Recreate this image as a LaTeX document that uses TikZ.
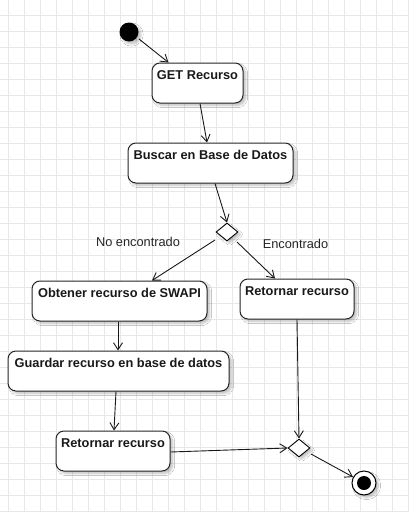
\documentclass[tikz,border=0pt]{standalone}
\usepackage{fontspec}
\setmainfont{Liberation Sans}
\usetikzlibrary{arrows.meta,shapes.geometric,shadows.blur,calc}
\tikzset{
  shade/.style={blur shadow={shadow xshift=2.5pt,shadow yshift=-2.5pt,shadow blur steps=6,shadow opacity=25}},
  actbox/.style={draw=black!85,line width=1pt,fill=white,rounded corners=8pt,minimum height=40pt,inner sep=0pt,shade,
    label={[anchor=base,yshift=-17.3pt,font=\fontsize{12.8}{15}\selectfont\bfseries,text=black!90]north:#1}},
  decision/.style={draw=black,line width=0.9pt,fill=white,diamond,minimum width=22pt,minimum height=18pt,inner sep=0pt,aspect=1.22,shade},
  lbl/.style={font=\fontsize{12.8}{15}\selectfont,text=black!85,inner sep=0pt},
  arr/.style={draw=black!90,line width=0.9pt,-{Straight Barb[length=7pt,width=9pt]}}
}
\begin{document}
\begin{tikzpicture}[x=1pt,y=-1pt]
\useasboundingbox (0,0) rectangle (408,512);
\fill[white] (0,0) rectangle (408,512);
% grid
\foreach \gx in {8,24,...,408} \draw[black!9,line width=0.8pt] (\gx,0) -- (\gx,512);
\foreach \gy in {15,31,...,511} \draw[black!9,line width=0.8pt] (0,\gy) -- (408,\gy);
% nodes
\node[circle,fill=black,minimum size=19pt,inner sep=0pt,shade] (init) at (129,32) {};
\node[actbox={GET Recurso},minimum width=91pt] (get) at (197.5,83) {};
\node[actbox={Buscar en Base de Datos},minimum width=165pt] (buscar) at (210.5,163) {};
\node[decision] (dec1) at (227,232) {};
\node[lbl] (lno) at (138,242) {No encontrado};
\node[lbl] (lsi) at (295.5,244) {Encontrado};
\node[actbox={Obtener recurso de SWAPI},minimum width=175pt] (obtener) at (119.5,301) {};
\node[actbox={Retornar recurso},minimum width=114pt] (retR) at (297,299) {};
\node[actbox={Guardar recurso en base de datos},minimum width=221pt] (guardar) at (118.5,371) {};
\node[actbox={Retornar recurso},minimum width=114pt] (retL) at (113,451) {};
\node[decision] (dec2) at (299,448) {};
\node[circle,draw=black,line width=1pt,fill=white,minimum size=24pt,inner sep=0pt,shade] (final) at (364,483) {};
\node[circle,fill=black,minimum size=14pt,inner sep=0pt] (finalin) at (final) {};
% connectors
\draw[arr] ([shift={(10,7)}]init.center) -- ([xshift=17pt]get.north west);
\draw[arr] ([xshift=2.5pt]get.south) -- ([xshift=-3.5pt]buscar.north);
\draw[arr] ([xshift=4.5pt]buscar.south) -- (dec1.north);
\draw[arr] ([shift={(-12,8)}]dec1.center) -- ([xshift=32.5pt]obtener.north);
\draw[arr] ([shift={(10,10)}]dec1.center) -- ([xshift=-22pt]retR.north);
\draw[arr] ([xshift=-1.5pt]obtener.south) -- ([xshift=-0.5pt]guardar.north);
\draw[arr] ([xshift=-2.5pt]guardar.south) -- ([xshift=1pt]retL.north);
\draw[arr] (retR.south) -- (dec2.north);
\draw[arr] ([yshift=-1pt]retL.east) -- (dec2.west);
\draw[arr] ([shift={(12,6)}]dec2.center) -- (final);
\end{tikzpicture}
\end{document}
